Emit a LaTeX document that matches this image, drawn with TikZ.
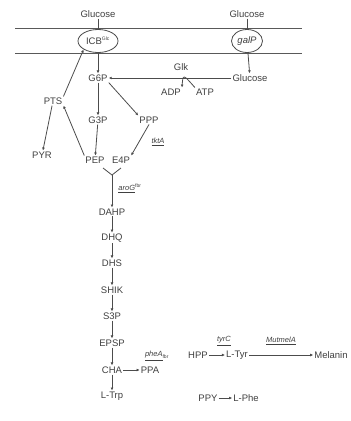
\documentclass[tikz,border=0pt]{standalone}
\usepackage{fontspec}
\setmainfont{Liberation Sans}
\usetikzlibrary{arrows.meta,positioning,shapes.geometric}
\tikzset{>={Latex[length=3pt,width=2.8pt]}}
\tikzset{met/.style={inner sep=1pt, text=black!75},
  gene/.style={inner sep=1pt, text=black!75, font=\fontsize{7.5}{8}\selectfont},
  rxn/.style={->, line width=0.8pt, draw=black!70},
  memb/.style={line width=0.9pt, draw=black!65}}
\newcommand{\gn}[1]{\underline{\textit{#1}}}

\begin{document}
\begin{tikzpicture}[x=1pt, y=-1pt, font=\fontsize{9.5}{10}\selectfont]
\useasboundingbox (0,0) rectangle (351,421);
% membrane
\draw[memb] (15,28) -- (302,28);
\draw[memb] (15,53) -- (302,53);
\node[ellipse, draw=black!70, line width=0.8pt, fill=white, minimum width=40, minimum height=23, inner sep=0pt, text=black!75] (icb) at (98,41) {ICB\textsuperscript{\tiny Glc}};
\node[ellipse, draw=black!70, line width=0.8pt, fill=white, minimum width=31, minimum height=23, inner sep=0pt, text=black!75] (galp) at (247,41) {\textit{galP}};
\node[met] (glcL) at (98,14) {Glucose};
\node[met] (glcR) at (247,14) {Glucose};
\draw[line width=0.8pt, black!70] (glcL) -- (icb);
\draw[line width=0.8pt, black!70] (glcR) -- (galp);

% glycolysis and PPP
\node[met] (g6p) at (98,78) {G6P};
\node[met] (glcIn) at (250,78) {Glucose};
\node[met] (glk) at (181,67) {Glk};
\node[met] (adp) at (171,92) {ADP};
\node[met] (atp) at (205,92) {ATP};
\node[met] (pts) at (53,101) {PTS};
\node[met] (pyr) at (42,155) {PYR};
\node[met] (g3p) at (98,120) {G3P};
\node[met] (ppp) at (149,120) {PPP};
\node[met] (pep) at (95,160) {PEP};
\node[met] (e4p) at (121,160) {E4P};
\node[gene] (tkta) at (158,142) {\gn{tktA}};
\coordinate (armL) at (103,168);
\coordinate (armR) at (121,168);
\coordinate (join) at (112,175);
\node[gene] (arog) at (130,188) {\gn{aroG}\textsuperscript{\tiny fbr}};

\draw[rxn] (icb) -- (g6p);
\draw[rxn] (galp) -- (glcIn);
\draw[rxn] (glcIn) -- (g6p);
\draw[rxn] (atp.north west) .. controls (183,74) .. (adp.north east);
\draw[rxn] (pts.north east) -- (icb.south west);
\draw[rxn] (pts) -- (pyr);
\draw[rxn] (pep.north west) -- (pts.south east);
\draw[rxn] (g6p) -- (g3p);
\draw[rxn] (g6p.south east) -- (ppp.north west);
\draw[rxn] (g3p) -- (pep);
\draw[rxn] (ppp.south) -- (e4p.north east);
\draw[line width=0.8pt, black!70] (armL) .. controls (108,172) .. (join) .. controls (116,172) .. (armR);

% shikimate pathway
\node[met] (dahp) at (112,212) {DAHP};
\node[met] (dhq) at (112,238) {DHQ};
\node[met] (dhs) at (112,263) {DHS};
\node[met] (shik) at (112,290) {SHIK};
\node[met] (s3p) at (112,316) {S3P};
\node[met] (epsp) at (112,343) {EPSP};
\node[met] (cha) at (112,370) {CHA};
\node[met] (ltrp) at (112,396) {L-Trp};
\node[met] (ppa) at (150,370) {PPA};
\draw[rxn] (join) -- (dahp);
\draw[rxn] (dahp) -- (dhq);
\draw[rxn] (dhq) -- (dhs);
\draw[rxn] (dhs) -- (shik);
\draw[rxn] (shik) -- (s3p);
\draw[rxn] (s3p) -- (epsp);
\draw[rxn] (epsp) -- (cha);
\draw[rxn] (cha) -- (ltrp);
\draw[rxn] (cha) -- (ppa);

% tyrosine / melanin branch
\node[gene] (phea) at (157,356) {\gn{pheA}\textsubscript{\tiny fbr}};
\node[met] (hpp) at (198,355) {HPP};
\node[met] (ltyr) at (237,355) {L-Tyr};
\node[met] (mel) at (331,355) {Melanin};
\node[gene] (tyrc) at (224,341) {\gn{tyrC}};
\node[gene] (mutmela) at (281,341) {\gn{MutmelA}};
\node[met] (ppy) at (208,398) {PPY};
\node[met] (lphe) at (246,398) {L-Phe};
\draw[rxn] (hpp) -- (ltyr);
\draw[rxn] (ltyr) -- (mel);
\draw[rxn] (ppy) -- (lphe);
\end{tikzpicture}
\end{document}
